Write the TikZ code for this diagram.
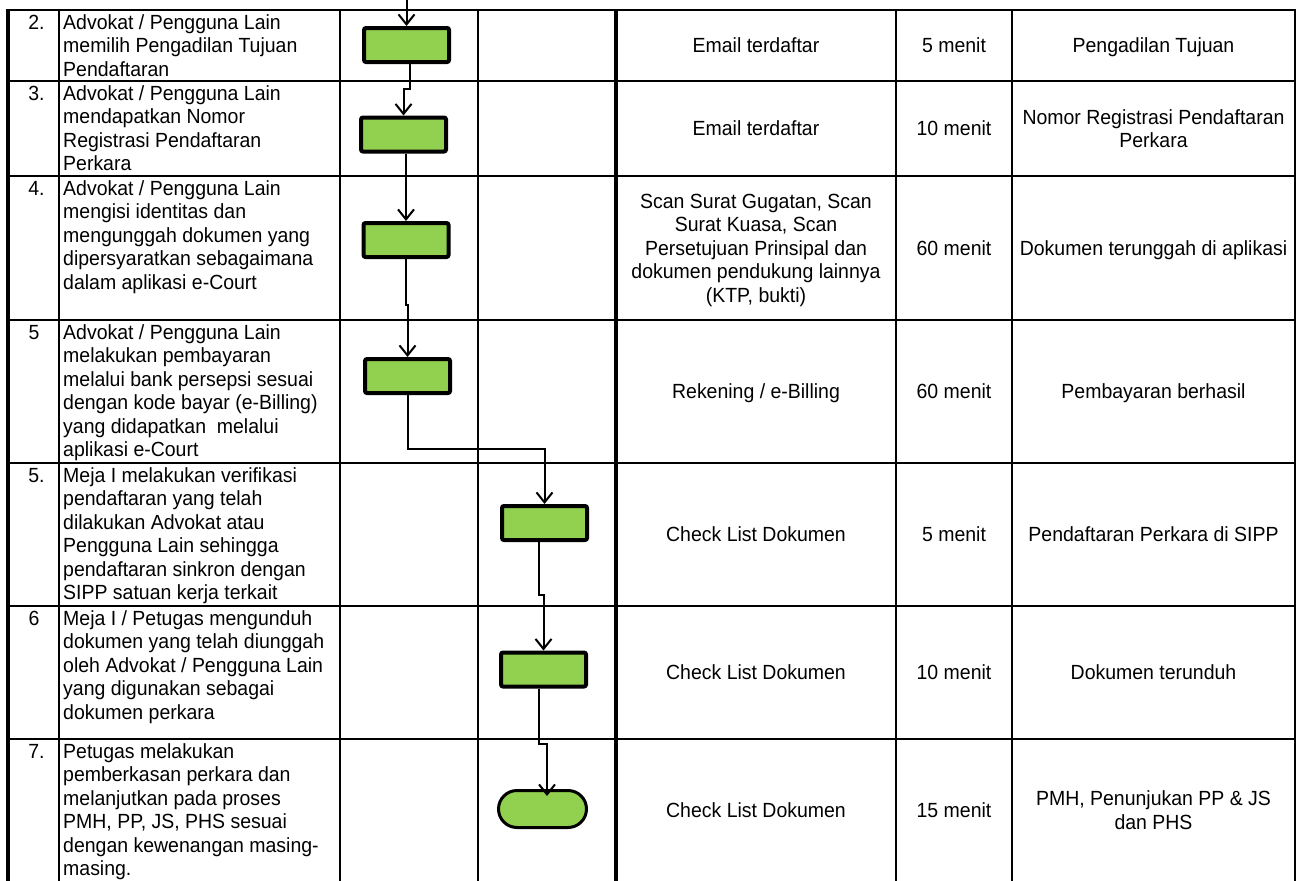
\documentclass[tikz,border=0pt]{standalone}
\usepackage{fontspec}
\setmainfont{Liberation Sans}[FakeStretch=0.95]
\usetikzlibrary{arrows.meta,calc}
\definecolor{boxgreen}{RGB}{146,208,80}
\newcommand{\xs}{\rule[-4.5pt]{0pt}{23.5pt}}
\begin{document}
\begin{tikzpicture}[x=1pt,y=-1pt,
  gridline/.style={line width=2pt},
  heavyline/.style={line width=4.5pt},
  txt/.style={inner sep=0pt, font=\fontsize{20.5}{23.5}\selectfont},
  desc/.style={txt, anchor=north west, align=left},
  cell/.style={txt, align=center},
  num/.style={txt, anchor=north},
  box/.style={draw=black, line width=4pt, fill=boxgreen, minimum width=85pt, minimum height=34pt, inner sep=0pt, rounded corners=2pt},
  termbox/.style={draw=black, line width=3pt, fill=boxgreen, minimum width=88pt, minimum height=37pt, inner sep=0pt, rounded corners=18.5pt},
  conn/.style={line width=2pt, -{Straight Barb[length=10pt,width=16pt]}}
]
\useasboundingbox (0,0) rectangle (1299,881);
\fill[white] (0,0) rectangle (1299,881);

% ---- numbers
\node[num] (n2) at (36.5,10) {\xs 2.};
\node[num] (n3) at (36.5,81) {\xs 3.};
\node[num] (n4) at (36.5,176) {\xs 4.};
\node[num] (n5) at (34,320) {\xs 5};
\node[num] (n5b) at (36.5,463) {\xs 5.};
\node[num] (n6) at (34,606) {\xs 6};
\node[num] (n7) at (36.5,739) {\xs 7.};

% ---- descriptions
\node[desc] (d2) at (63,10) {\xs Advokat / Pengguna Lain\\memilih Pengadilan Tujuan\\Pendaftaran};
\node[desc] (d3) at (63,81) {\xs Advokat / Pengguna Lain\\mendapatkan Nomor\\Registrasi Pendaftaran\\Perkara};
\node[desc] (d4) at (63,176) {\xs Advokat / Pengguna Lain\\mengisi identitas dan\\mengunggah dokumen yang\\dipersyaratkan sebagaimana\\dalam aplikasi e-Court};
\node[desc] (d5) at (63,320) {\xs Advokat / Pengguna Lain\\melakukan pembayaran\\melalui bank persepsi sesuai\\dengan kode bayar (e-Billing)\\yang didapatkan\ \ melalui\\aplikasi e-Court};
\node[desc] (d5b) at (63,463) {\xs Meja I melakukan verifikasi\\pendaftaran yang telah\\dilakukan Advokat atau\\Pengguna Lain sehingga\\pendaftaran sinkron dengan\\SIPP satuan kerja terkait};
\node[desc] (d6) at (63,606) {\xs Meja I / Petugas mengunduh\\dokumen yang telah diunggah\\oleh Advokat / Pengguna Lain\\yang digunakan sebagai\\dokumen perkara};
\node[desc] (d7) at (63,739) {\xs Petugas melakukan\\pemberkasan perkara dan\\melanjutkan pada proses\\PMH, PP, JS, PHS sesuai\\dengan kewenangan masing-\\masing.};

% ---- requirements
\node[cell] (r2) at (756,45.5) {\xs Email terdaftar};
\node[cell] (r3) at (756,128.5) {\xs Email terdaftar};
\node[cell] (r4) at (756,248) {\xs Scan Surat Gugatan, Scan\\\xs Surat Kuasa, Scan\\\xs Persetujuan Prinsipal dan\\\xs dokumen pendukung lainnya\\\xs (KTP, bukti)};
\node[cell] (r5) at (756,391.5) {\xs Rekening / e-Billing};
\node[cell] (r5b) at (756,534.5) {\xs Check List Dokumen};
\node[cell] (r6) at (756,672.5) {\xs Check List Dokumen};
\node[cell] (r7) at (756,810) {\xs Check List Dokumen};

% ---- time
\node[cell] (t2) at (954,45.5) {\xs 5 menit};
\node[cell] (t3) at (954,128.5) {\xs 10 menit};
\node[cell] (t4) at (954,248) {\xs 60 menit};
\node[cell] (t5) at (954,391.5) {\xs 60 menit};
\node[cell] (t5b) at (954,534.5) {\xs 5 menit};
\node[cell] (t6) at (954,672.5) {\xs 10 menit};
\node[cell] (t7) at (954,810) {\xs 15 menit};

% ---- output
\node[cell] (o2) at (1153.5,45.5) {\xs Pengadilan Tujuan};
\node[cell] (o3) at (1153.5,128.5) {\xs Nomor Registrasi Pendaftaran\\\xs Perkara};
\node[cell] (o4) at (1153.5,248) {\xs Dokumen terunggah di aplikasi};
\node[cell] (o5) at (1153.5,391.5) {\xs Pembayaran berhasil};
\node[cell] (o5b) at (1153.5,534.5) {\xs Pendaftaran Perkara di SIPP};
\node[cell] (o6) at (1153.5,672.5) {\xs Dokumen terunduh};
\node[cell] (o7) at (1153.5,810) {\xs PMH, Penunjukan PP \& JS\\\xs dan PHS};

% ---- grid
\foreach \yy in {81,176,320,463,606,739}
  \draw[gridline] (8,\yy) -- (1295,\yy);
\draw[gridline] (6,10) -- (1296,10);
\foreach \xx in {59,340,478,896,1012,1295}
  \draw[gridline] (\xx,10) -- (\xx,881);
\foreach \xx in {8,616}
  \draw[heavyline] (\xx,9) -- (\xx,881);

% ---- flow shapes
\node[box] (b1) at (406.5,45) {};
\node[box] (b2) at (403.5,134.5) {};
\node[box] (b3) at (406,240) {};
\node[box] (b4) at (407.5,376) {};
\node[box] (b5) at (544.5,523) {};
\node[box] (b6) at (543.5,669.5) {};
\node[termbox] (term) at (542.5,809) {};

% ---- connectors
\coordinate (top) at (406.5,0);
\draw[conn] (top) -- (b1.north);
\draw[conn] ($(b1.south)+(3.5,0)$) -- ++(0,25) -| (b2.north);
\draw[conn] ($(b2.south)+(2.5,0)$) -- ++(0,40) -| (b3.north);
\draw[conn] (b3.south) -- ++(0,46) -| (b4.north);
\draw[conn] (b4.south) -- ++(0,54) -| (b5.north);
\draw[conn] ($(b5.south)+(-6,0)$) -- ++(0,53) -| (b6.north);
\draw[conn] ($(b6.south)+(-4.5,0)$) -- ++(0,55) -| ($(term.north)+(4.5,7)$);
\end{tikzpicture}
\end{document}
